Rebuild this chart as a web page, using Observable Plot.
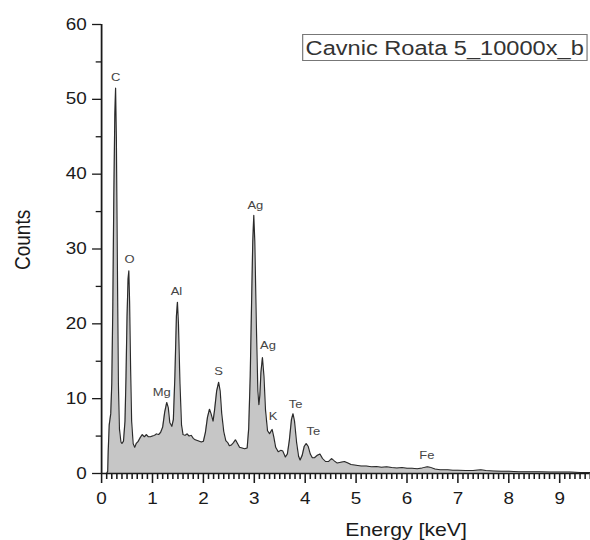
<!DOCTYPE html>
<html>
<head>
<meta charset="utf-8">
<script src="https://cdn.jsdelivr.net/npm/d3@7"></script>
<script src="https://cdn.jsdelivr.net/npm/@observablehq/plot@0.6"></script>
<style>
  body { margin: 0; background: #fff; overflow: hidden; }
  #wrap { position: relative; width: 500px; height: 540px; transform: scaleX(1.18); transform-origin: 0 0;
          font-family: "Liberation Sans", Arial, sans-serif; }
  #legend { position: absolute; left: 256px; top: 34px; width: 242px; height: 27px; box-sizing: border-box;
            border: 1px solid #777; font-size: 20px; line-height: 25px; padding-left: 2px; padding-top: 1px;
            color: #333; white-space: nowrap; background: #fff; }
</style>
</head>
<body>
<div id="wrap"><div id="legend">Cavnic Roata 5_10000x_b</div></div>
<script>
// Spectrum: energy (keV) and counts
const energy = [0.00,0.10,0.12,0.13,0.15,0.18,0.20,0.22,0.24,0.26,0.275,0.29,0.31,0.33,0.35,0.38,0.40,0.43,0.46,0.48,0.50,0.52,0.535,0.55,0.57,0.59,0.62,0.65,0.68,0.72,0.76,0.80,0.84,0.88,0.92,0.96,1.00,1.04,1.08,1.12,1.16,1.20,1.24,1.28,1.31,1.34,1.38,1.41,1.44,1.47,1.49,1.51,1.54,1.57,1.60,1.64,1.68,1.72,1.76,1.80,1.84,1.88,1.92,1.96,2.00,2.04,2.08,2.12,2.15,2.19,2.22,2.26,2.30,2.33,2.36,2.40,2.44,2.48,2.51,2.55,2.59,2.63,2.67,2.71,2.76,2.81,2.86,2.89,2.92,2.95,2.97,2.99,3.01,3.04,3.07,3.09,3.11,3.13,3.16,3.19,3.22,3.26,3.30,3.35,3.38,3.42,3.47,3.52,3.56,3.61,3.65,3.69,3.73,3.76,3.79,3.83,3.87,3.90,3.94,3.98,4.02,4.06,4.10,4.14,4.18,4.23,4.29,4.34,4.40,4.46,4.52,4.57,4.63,4.70,4.77,4.84,4.90,5.00,5.10,5.20,5.30,5.40,5.50,5.60,5.70,5.80,5.90,6.00,6.10,6.20,6.30,6.40,6.45,6.55,6.65,6.80,6.90,7.00,7.15,7.30,7.45,7.55,7.70,7.85,8.00,8.20,8.40,8.60,8.80,9.00,9.20,9.40,9.60];
const counts = [0,0,0.3,3,6.5,8,12,22,37,48,51.5,45,28,12,6,4.2,4.0,4.3,7,13,21,26,27.1,23,14,7,4,3.5,4.0,4.3,4.8,5.2,4.9,5.2,4.9,4.9,5.0,5.1,5.3,5.2,5.5,6.2,8.2,9.5,8.8,6.8,6.3,7.2,13,21,22.9,20,12,6.5,5.2,5.1,5.3,5.0,5.1,4.7,4.5,4.4,4.3,4.2,4.3,5.5,7.5,8.6,8.0,7.0,8.5,11,12.2,11,8,5.6,4.4,4.1,3.7,3.8,4.1,4.5,4.0,3.5,3.4,3.3,3.4,6,13,24,31,34.5,31,20,11,9.2,10.5,13.5,15.5,13,8.5,5.7,5.3,5.9,5.0,3.5,2.9,3.1,3.0,2.2,2.6,4.5,7.2,8.0,7.0,4.2,2.3,1.8,2.4,3.6,4.0,3.6,2.6,2.1,2.1,2.4,2.6,2.0,1.6,1.6,2.0,1.7,1.4,1.5,1.6,1.4,1.2,1.1,1.0,1.0,0.9,0.95,0.85,0.9,0.8,0.75,0.8,0.7,0.7,0.65,0.75,0.9,0.85,0.6,0.5,0.5,0.45,0.45,0.4,0.4,0.5,0.4,0.35,0.3,0.3,0.25,0.25,0.25,0.2,0.2,0.2,0.15,0.15];

// Peak labels
const peakNames = ["C","O","Al","Mg","S","Ag","Ag","K","Te","Te","Fe"];
const peakX = [0.275,0.55,1.47,1.18,2.30,3.02,3.27,3.37,3.81,4.16,6.39];
const peakY = [52.4,28.1,23.9,10.4,13.1,35.4,16.7,7.1,8.7,5.2,2.0];

// Axis ticks
const xMajor = [0,1,2,3,4,5,6,7,8,9];
const xMinor = d3.range(1, 97).filter(i => i % 10 !== 0).map(i => i / 10);
const yMajor = [0,10,20,30,40,50,60];
const yMinor = [5,15,25,35,45,55];

const data = energy.map((e, i) => ({e, c: counts[i]}));
const labels = peakNames.map((n, i) => ({n, x: peakX[i], y: peakY[i]}));

const chart = Plot.plot({
  width: 500,
  height: 540,
  marginLeft: 85.6,
  marginRight: 0.3,
  marginTop: 24,
  marginBottom: 67,
  style: {fontFamily: "'Liberation Sans', Arial, sans-serif", fontSize: "16px", color: "#1a1a1a", background: "#fff", overflow: "hidden"},
  x: {domain: [0, 9.6]},
  y: {domain: [0, 60]},
  marks: [
    Plot.areaY(data, {x: "e", y: "c", fill: "#c6c6c6"}),
    Plot.lineY(data, {x: "e", y: "c", stroke: "#2a2a2a", strokeWidth: 1}),
    // minor ticks: short rules hanging off the axes
    Plot.ruleX(xMinor, {x: d => d, y1: 0, y2: 0, insetBottom: -6, stroke: "#1a1a1a", strokeWidth: 1.3}),
    Plot.ruleY(yMinor, {y: d => d, x1: 0, x2: 0, insetLeft: -4.5, stroke: "#1a1a1a", strokeWidth: 1.3}),
    Plot.axisX(xMajor, {tickSize: 10, tickPadding: 9, strokeWidth: 1.3, label: null, tickFormat: d => String(d), fontSize: 16}),
    Plot.axisY(yMajor, {tickSize: 7.6, tickPadding: 5, strokeWidth: 1.3, label: null, tickFormat: d => String(d), fontSize: 16}),
    Plot.ruleX([0], {strokeWidth: 1.5, stroke: "#1a1a1a"}),
    Plot.ruleY([0], {strokeWidth: 1.5, stroke: "#1a1a1a"}),
    Plot.text(labels, {x: "x", y: "y", text: "n", lineAnchor: "bottom", fontSize: 11, fill: "#444"}),
    Plot.text(["Counts"], {frameAnchor: "left", rotate: -90, dx: -67, dy: 21, fontSize: 19, fill: "#1a1a1a"}),
    Plot.text(["Energy [keV]"], {frameAnchor: "bottom", dx: 51, dy: 62, lineAnchor: "bottom", fontSize: 18, fill: "#1a1a1a"})
  ]
});
document.getElementById("wrap").prepend(chart);
</script>
</body>
</html>
